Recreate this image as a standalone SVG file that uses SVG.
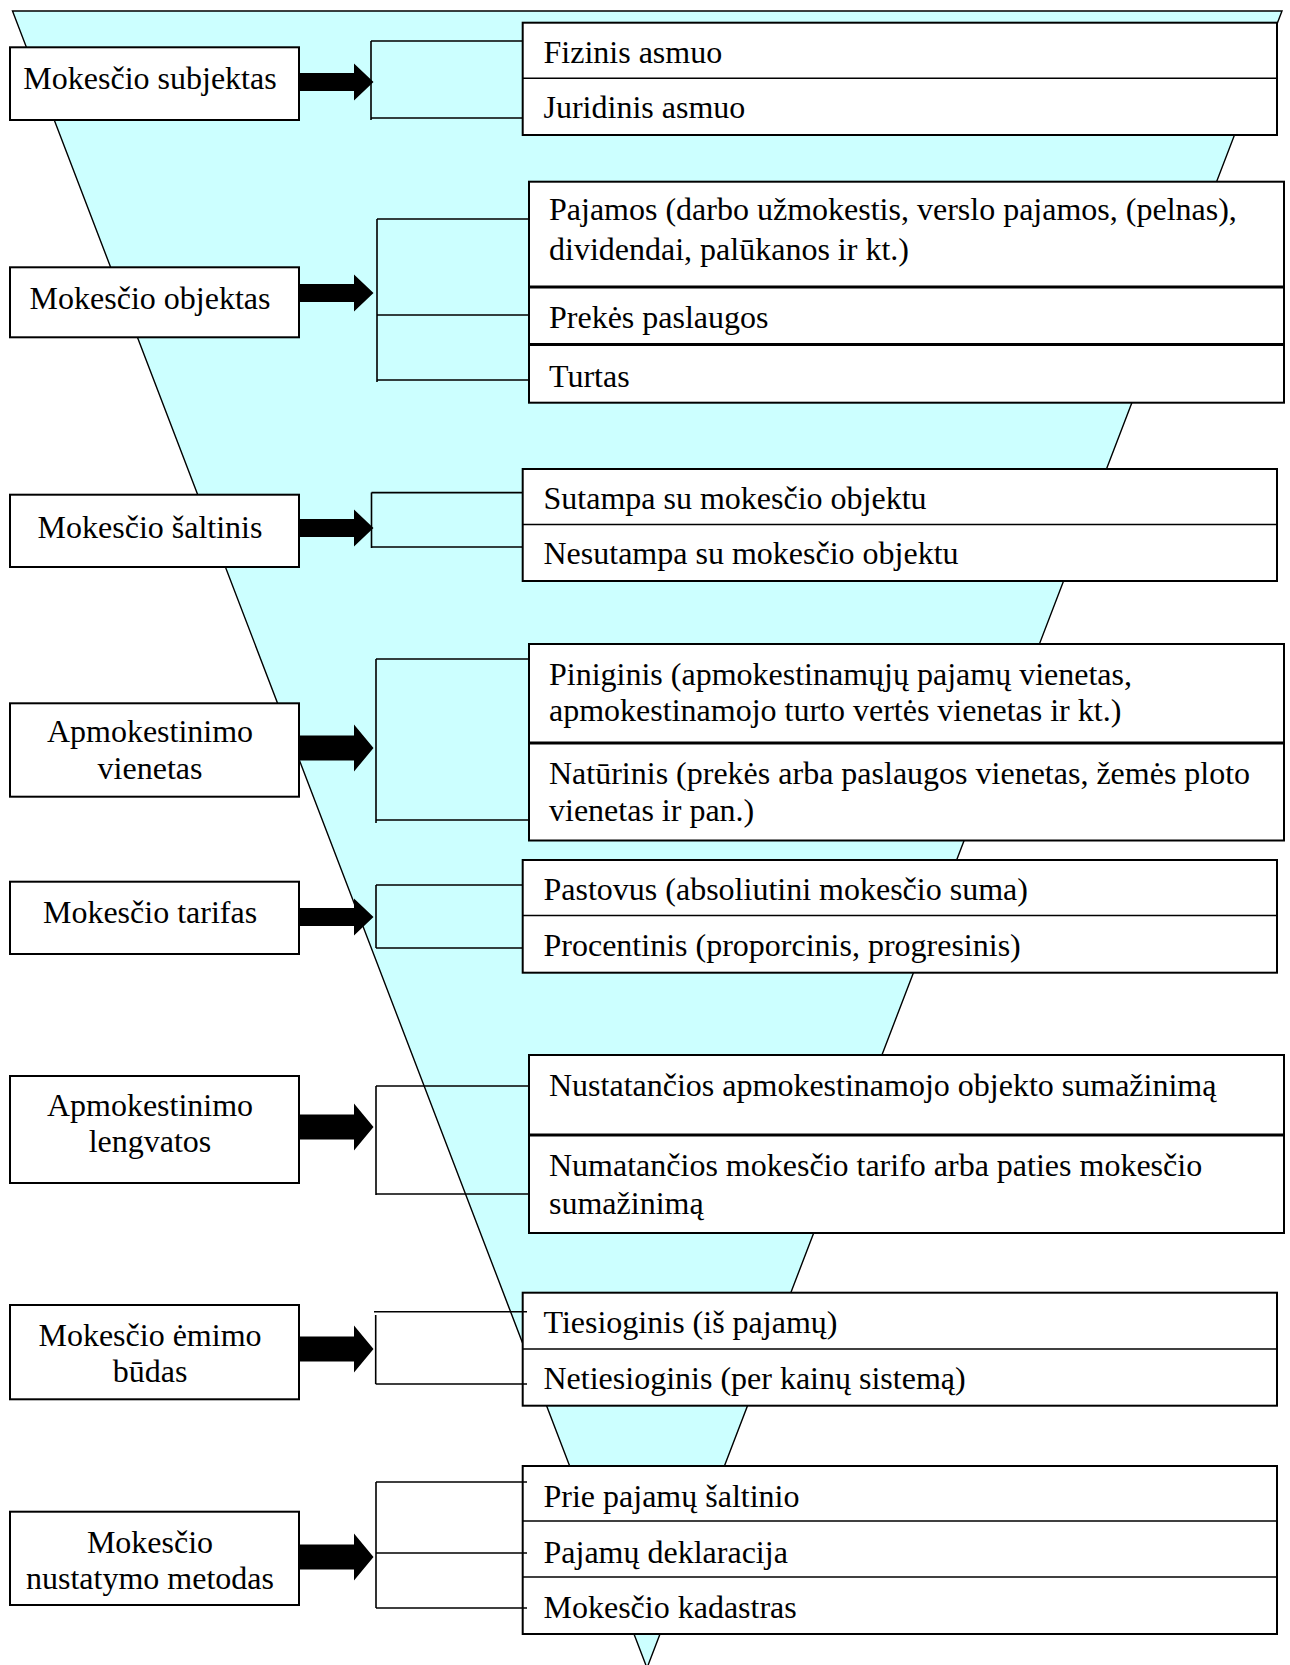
<svg xmlns="http://www.w3.org/2000/svg" width="1290" height="1665" viewBox="0 0 1290 1665">
<style>
  .bg { fill: #ffffff; }
  .tri { fill: #ccffff; stroke: #000; stroke-width: 1.4; }
  .box { fill: #ffffff; stroke: #000; stroke-width: 2; }
  .div { stroke: #000; stroke-width: 1.6; fill: none; }
  .thick { stroke: #000; stroke-width: 3.2; fill: none; }
  .br { stroke: #000; stroke-width: 1.6; fill: none; }
  .arr { fill: #000; stroke: none; }
  text { font-family: "Liberation Serif", "Times New Roman", serif; font-size: 32px; fill: #000; }
  .c { text-anchor: middle; }
</style>
<defs>
  <path id="arrS" d="M299,-9 H354 V-18.5 L373.5,0 L354,18.5 V9 H299 Z"/>
  <path id="arrL" d="M299,-12.5 H354 V-23.5 L373.5,0 L354,23.5 V12.5 H299 Z"/>
</defs>
<rect class="bg" x="0" y="0" width="1290" height="1665"/>
<polygon id="funnel" class="tri" points="12.5,11 1282,11 647,1668"/>

<!-- left nodes -->
<g id="n-subjektas"><rect class="box" x="10" y="47.3" width="289" height="72.7"/><text class="c" x="150" y="89">Mokesčio subjektas</text></g>
<g id="n-objektas"><rect class="box" x="10" y="267.3" width="289" height="70"/><text class="c" x="150" y="309">Mokesčio objektas</text></g>
<g id="n-saltinis"><rect class="box" x="10" y="494.7" width="289" height="72.3"/><text class="c" x="150" y="538">Mokesčio šaltinis</text></g>
<g id="n-vienetas"><rect class="box" x="10" y="703.3" width="289" height="93.4"/><text class="c" x="150" y="742">Apmokestinimo</text><text class="c" x="150" y="778.5">vienetas</text></g>
<g id="n-tarifas"><rect class="box" x="10" y="881.7" width="289" height="72.3"/><text class="c" x="150" y="922.5">Mokesčio tarifas</text></g>
<g id="n-lengvatos"><rect class="box" x="10" y="1076" width="289" height="107"/><text class="c" x="150" y="1115.5">Apmokestinimo</text><text class="c" x="150" y="1151.5">lengvatos</text></g>
<g id="n-budas"><rect class="box" x="10" y="1305" width="289" height="94.3"/><text class="c" x="150" y="1346">Mokesčio ėmimo</text><text class="c" x="150" y="1381.5">būdas</text></g>
<g id="n-metodas"><rect class="box" x="10" y="1511.7" width="289" height="93.3"/><text class="c" x="150" y="1553">Mokesčio</text><text class="c" x="150" y="1588.5">nustatymo metodas</text></g>

<!-- right nodes -->
<g id="r-subjektas">
  <rect class="box" x="522.7" y="22.7" width="754.3" height="112.3"/>
  <line class="div" x1="522.7" y1="78.3" x2="1277" y2="78.3"/>
  <text x="543.5" y="63">Fizinis asmuo</text>
  <text x="543.5" y="118">Juridinis asmuo</text>
</g>
<g id="r-objektas">
  <rect class="box" x="529" y="181.7" width="755" height="221"/>
  <line class="thick" x1="529" y1="287" x2="1284" y2="287"/>
  <line class="thick" x1="529" y1="344.5" x2="1284" y2="344.5"/>
  <text x="549" y="220">Pajamos (darbo užmokestis, verslo pajamos, (pelnas),</text>
  <text x="549" y="260">dividendai, palūkanos ir kt.)</text>
  <text x="549" y="327.5">Prekės paslaugos</text>
  <text x="549" y="387">Turtas</text>
</g>
<g id="r-saltinis">
  <rect class="box" x="522.7" y="469" width="754.3" height="112"/>
  <line class="div" x1="522.7" y1="524.5" x2="1277" y2="524.5"/>
  <text x="543.5" y="509">Sutampa su mokesčio objektu</text>
  <text x="543.5" y="564">Nesutampa su mokesčio objektu</text>
</g>
<g id="r-vienetas">
  <rect class="box" x="529" y="644" width="755" height="196.5"/>
  <line class="thick" x1="529" y1="743" x2="1284" y2="743"/>
  <text x="549" y="685">Piniginis (apmokestinamųjų pajamų vienetas,</text>
  <text x="549" y="721">apmokestinamojo turto vertės vienetas ir kt.)</text>
  <text x="549" y="783.5">Natūrinis (prekės arba paslaugos vienetas, žemės ploto</text>
  <text x="549" y="820.5">vienetas ir pan.)</text>
</g>
<g id="r-tarifas">
  <rect class="box" x="522.7" y="860" width="754.3" height="112.7"/>
  <line class="div" x1="522.7" y1="915.5" x2="1277" y2="915.5"/>
  <text x="543.5" y="899.5">Pastovus (absoliutini mokesčio suma)</text>
  <text x="543.5" y="955.5">Procentinis (proporcinis, progresinis)</text>
</g>
<g id="r-lengvatos">
  <rect class="box" x="529" y="1055" width="755" height="178"/>
  <line class="thick" x1="529" y1="1135" x2="1284" y2="1135"/>
  <text x="549" y="1096">Nustatančios apmokestinamojo objekto sumažinimą</text>
  <text x="549" y="1175.5">Numatančios mokesčio tarifo arba paties mokesčio</text>
  <text x="549" y="1213.5">sumažinimą</text>
</g>
<g id="r-budas">
  <rect class="box" x="522.7" y="1292.7" width="754.3" height="113"/>
  <line class="div" x1="522.7" y1="1349" x2="1277" y2="1349"/>
  <text x="543.5" y="1333">Tiesioginis (iš pajamų)</text>
  <text x="543.5" y="1388.5">Netiesioginis (per kainų sistemą)</text>
</g>
<g id="r-metodas">
  <rect class="box" x="522.7" y="1466" width="754.3" height="168"/>
  <line class="div" x1="522.7" y1="1521" x2="1277" y2="1521"/>
  <line class="div" x1="522.7" y1="1577" x2="1277" y2="1577"/>
  <text x="543.5" y="1507">Prie pajamų šaltinio</text>
  <text x="543.5" y="1562.5">Pajamų deklaracija</text>
  <text x="543.5" y="1618">Mokesčio kadastras</text>
</g>

<!-- connectors -->
<g id="connectors">
  <use class="arr" href="#arrS" y="82"/>
  <use class="arr" href="#arrS" y="293"/>
  <use class="arr" href="#arrS" y="528"/>
  <use class="arr" href="#arrL" y="748"/>
  <use class="arr" href="#arrS" y="917"/>
  <use class="arr" href="#arrL" y="1127"/>
  <use class="arr" href="#arrL" y="1349"/>
  <use class="arr" href="#arrL" y="1557"/>

  <path class="br" d="M371,41 V120 M371,41 H523 M371,118 H523"/>
  <path class="br" d="M377,219 V382 M377,219 H529 M377,315 H529 M377,380 H529"/>
  <path class="br" d="M371.5,492.6 V548 M371.5,492.6 H523 M371.5,547 H523"/>
  <path class="br" d="M376,659 V823 M376,659 H529 M376,820 H529"/>
  <path class="br" d="M376,885 V948 M376,885 H523 M376,948 H523"/>
  <path class="br" d="M376,1086 V1195 M376,1086 H529 M376,1194 H529"/>
  <path class="br" d="M375.7,1315 V1384 M374,1311.7 H527 M375.7,1384 H527"/>
  <path class="br" d="M376,1482 V1608 M376,1482 H527 M376,1553 H527 M376,1608 H527"/>
</g>
</svg>
